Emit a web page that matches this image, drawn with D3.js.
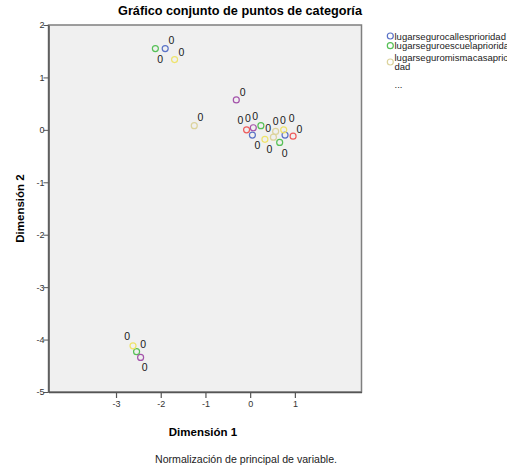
<!DOCTYPE html>
<html>
<head>
<meta charset="utf-8">
<script src="https://cdn.jsdelivr.net/npm/d3@7"></script>
<style>
  body { margin: 0; background: #fff; }
  svg { display: block; font-family: "Liberation Sans", Arial, sans-serif; }
</style>
</head>
<body>
<svg id="chart"></svg>
<script>
// variables (only the first three appear in the legend, then "...")
let varNames = ['lugarsegurocallesprioridad', 'lugarseguroescuelaprioridad', 'lugarseguromismacasaprioridad', 'serie4', 'serie5', 'serie6'];
let varColors = ['#5a72c6', '#56c056', '#dcd39c', '#eee36a', '#a453aa', '#ee5b5b'];

// category points per variable, dimension 1 / dimension 2
let callesX = [-1.90, 0.05, 0.78];
let callesY = [1.55, -0.10, -0.10];
let escuelaX = [-2.12, 0.24, 0.66, -2.54];
let escuelaY = [1.55, 0.08, -0.24, -4.23];
let casaX = [-1.25, 0.57, 0.52];
let casaY = [0.08, -0.03, -0.14];
let serie4X = [-1.69, 0.33, 0.75, -2.62];
let serie4Y = [1.34, -0.18, 0.00, -4.12];
let serie5X = [-0.31, 0.07, -2.45];
let serie5Y = [0.57, 0.04, -4.34];
let serie6X = [-0.08, 0.96];
let serie6Y = [0.00, -0.12];

// category labels ("0") placed by the procedure
let labelText = ['0', '0', '0', '0', '0', '0', '0', '0', '0', '0', '0', '0', '0', '0', '0', '0', '0', '0', '0'];
let labelX = [-1.76, -2.01, -1.54, -0.17, -1.11, -0.22, -0.05, 0.11, 0.40, 0.57, 0.73, 0.93, 1.10, 0.16, 0.43, 0.77, -2.75, -2.39, -2.36];
let labelY = [1.72, 1.36, 1.49, 0.72, 0.24, 0.18, 0.23, 0.27, 0.04, 0.17, 0.18, 0.23, 0.02, -0.29, -0.36, -0.44, -3.93, -4.08, -4.52];

let xTicks = [-3, -2, -1, 0, 1];
let yTicks = [2, 1, 0, -1, -2, -3, -4, -5];

let w = 507;
let h = 468;
let padL = 48.5, padR = 361.5, padT = 25, padB = 392;

let series = [
  { x: callesX, y: callesY },
  { x: escuelaX, y: escuelaY },
  { x: casaX, y: casaY },
  { x: serie4X, y: serie4Y },
  { x: serie5X, y: serie5Y },
  { x: serie6X, y: serie6Y }
];

let svg = d3.select('#chart').attr('width', w).attr('height', h);

let xScale = d3.scaleLinear().domain([-4.51, 2.49]).range([padL, padR]);
let yScale = d3.scaleLinear().domain([-5, 2]).range([padB, padT]);

// plot background
svg.append('rect')
   .attr('x', padL).attr('y', padT)
   .attr('width', padR - padL).attr('height', padB - padT)
   .attr('fill', '#f0f0f0')
   .attr('stroke', '#7f7f7f')
   .attr('stroke-width', 1.5);

// axes
let yAxis = d3.axisLeft(yScale).tickValues(yTicks).tickSize(5).tickSizeOuter(0).tickFormat(d3.format('d'));
let gy = svg.append('g')
   .attr('transform', 'translate(' + padL + ',0)')
   .call(yAxis);
gy.select('.domain').attr('stroke', '#555').attr('stroke-width', 1.5);
gy.selectAll('.tick line').attr('stroke', '#555');
gy.selectAll('.tick text').attr('x', -4).attr('fill', '#333')
  .style('font-size', '9px').text(d => d < 0 ? '-' + Math.abs(d) : d);

let xAxis = d3.axisBottom(xScale).tickValues(xTicks).tickSize(6).tickSizeOuter(0);
let gx = svg.append('g')
   .attr('transform', 'translate(0,' + padB + ')')
   .call(xAxis);
gx.select('.domain').attr('stroke', '#555').attr('stroke-width', 1.5);
gx.selectAll('.tick line').attr('stroke', '#555').attr('stroke-width', 1.2);
gx.selectAll('.tick text').attr('y', 9).attr('fill', '#333')
  .style('font-size', '9px').text(d => d < 0 ? '-' + Math.abs(d) : d);

// points
series.forEach((s, i) => {
  svg.append('g')
     .selectAll('circle')
     .data(s.x.map((v, j) => [v, s.y[j]]))
     .enter()
     .append('circle')
     .attr('cx', d => xScale(d[0]))
     .attr('cy', d => yScale(d[1]))
     .attr('r', 3)
     .attr('fill', 'none')
     .attr('stroke', varColors[i])
     .attr('stroke-width', 1.2);
});

// category labels
svg.append('g')
   .selectAll('text')
   .data(labelText)
   .enter()
   .append('text')
   .attr('x', (d, i) => xScale(labelX[i]))
   .attr('y', (d, i) => yScale(labelY[i]) + 4)
   .attr('text-anchor', 'middle')
   .style('font-size', '10.5px')
   .attr('fill', '#1a1a1a')
   .text(d => d);

// titles
svg.append('text')
   .attr('x', 240).attr('y', 15)
   .attr('text-anchor', 'middle')
   .style('font-size', '12.7px').style('font-weight', 'bold')
   .text('Gráfico conjunto de puntos de categoría');

svg.append('text')
   .attr('x', 203).attr('y', 436)
   .attr('text-anchor', 'middle')
   .style('font-size', '11.5px').style('font-weight', 'bold')
   .text('Dimensión 1');

svg.append('text')
   .attr('transform', 'translate(24,' + ((padT + padB) / 2) + ') rotate(-90)')
   .attr('text-anchor', 'middle')
   .style('font-size', '11.5px').style('font-weight', 'bold')
   .text('Dimensión 2');

svg.append('text')
   .attr('x', 246).attr('y', 463)
   .attr('text-anchor', 'middle')
   .style('font-size', '10.6px').attr('fill', '#222')
   .text('Normalización de principal de variable.');

// legend: first three variables then "..."
let legend = svg.append('g').style('font-size', '9.5px').attr('fill', '#222');
let legendY = [36, 45.7, 62];
legendY.forEach((ly, i) => {
  legend.append('circle')
        .attr('cx', 390.3).attr('cy', ly).attr('r', 3)
        .attr('fill', 'none').attr('stroke', varColors[i]).attr('stroke-width', 1.2);
});
legend.append('text').attr('x', 394.5).attr('y', 39.5).text(varNames[0]);
legend.append('text').attr('x', 394.5).attr('y', 49.2).text(varNames[1]);
legend.append('text').attr('x', 394.5).attr('y', 60.5).text(varNames[2].slice(0, 26));
legend.append('text').attr('x', 394.5).attr('y', 69.5).text(varNames[2].slice(26));
legend.append('text').attr('x', 394.5).attr('y', 88).text('...');
</script>
</body>
</html>
